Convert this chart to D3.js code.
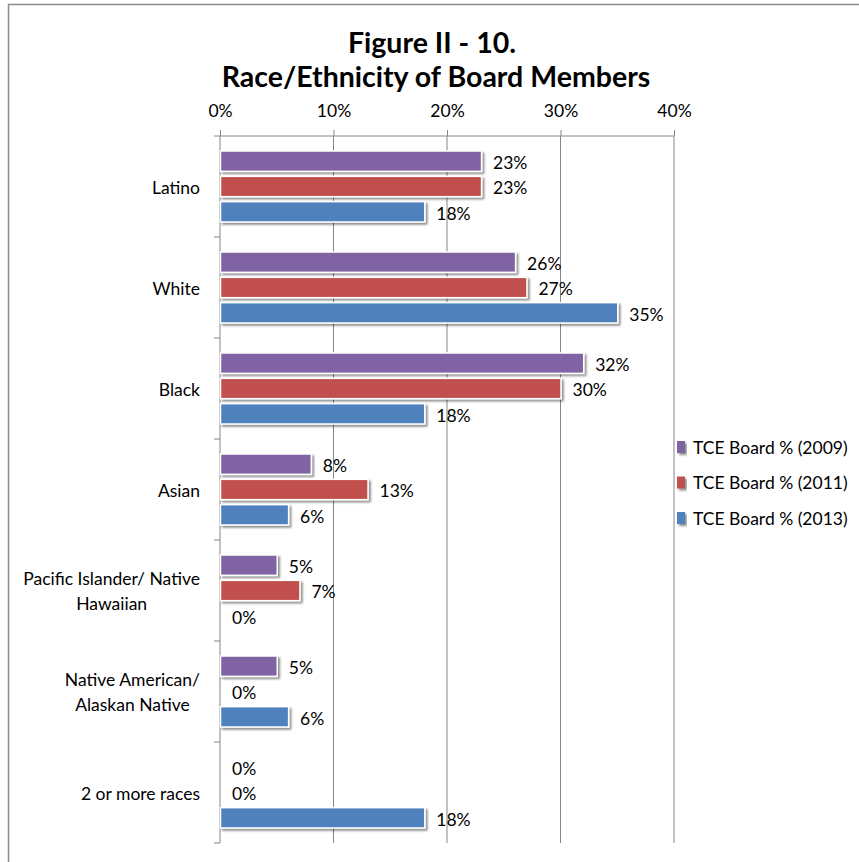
<!DOCTYPE html>
<html>
<head>
<meta charset="utf-8">
<script src="https://cdn.jsdelivr.net/npm/d3@7"></script>
<style>
  body { margin: 0; background: #fff; }
  svg { display: block; }
  text { font-family: "Lato", "Open Sans", sans-serif; fill: #000; }
</style>
</head>
<body>
<svg id="chart" width="859" height="862"></svg>
<script>
const categories = [
  ["Latino"],
  ["White"],
  ["Black"],
  ["Asian"],
  ["Pacific Islander/ Native", "Hawaiian"],
  ["Native American/", "Alaskan Native"],
  ["2 or more races"]
];
const seriesNames = ["TCE Board % (2009)", "TCE Board % (2011)", "TCE Board % (2013)"];
const seriesColors = ["#8064A2", "#C0504D", "#4F81BD"];
const values2009 = [0.23, 0.26, 0.32, 0.08, 0.05, 0.05, 0.00];
const values2011 = [0.23, 0.27, 0.30, 0.13, 0.07, 0.00, 0.00];
const values2013 = [0.18, 0.35, 0.18, 0.06, 0.00, 0.06, 0.18];
const tickValues = [0, 0.1, 0.2, 0.3, 0.4];
const titleLines = ["Figure II - 10.", "Race/Ethnicity of Board Members"];

const seriesValues = [values2009, values2011, values2013];
const catKeys = categories.map(c => c.join(" "));
const FS = "17.5px";

const svg = d3.select("#chart");

// shadow filter
const defs = svg.append("defs");
const f = defs.append("filter").attr("id", "shadow").attr("x", "-10%").attr("y", "-30%").attr("width", "130%").attr("height", "180%");
f.append("feGaussianBlur").attr("in", "SourceAlpha").attr("stdDeviation", 1.2).attr("result", "b");
f.append("feOffset").attr("in", "b").attr("dx", 1.5).attr("dy", 1.5).attr("result", "o");
f.append("feComponentTransfer").attr("in", "o").attr("result", "o2")
  .append("feFuncA").attr("type", "linear").attr("slope", 0.45);
const fm = f.append("feMerge");
fm.append("feMergeNode").attr("in", "o2");
fm.append("feMergeNode").attr("in", "SourceGraphic");

// outer border
svg.append("rect").attr("x", 8.5).attr("y", 4.5).attr("width", 900).attr("height", 900)
  .attr("fill", "none").attr("stroke", "#8c8c8c").attr("stroke-width", 1.5);

// title
svg.append("text").attr("x", 432).attr("y", 53).attr("text-anchor", "middle")
  .style("font-size", "28.5px").style("font-weight", "bold").text(titleLines[0]);
svg.append("text").attr("x", 436).attr("y", 87).attr("text-anchor", "middle")
  .style("font-size", "28.5px").style("font-weight", "bold").text(titleLines[1]);

const x = d3.scaleLinear().domain([0, 0.4]).range([220, 674]);
const y0 = d3.scaleBand().domain(catKeys).range([136, 843]).padding(0);
const y1 = d3.scaleBand().domain(seriesNames).range([12.5, y0.bandwidth() - 12.5]).padding(0);

// gridlines
svg.append("g").selectAll("line").data(tickValues.slice(1)).join("line")
  .attr("x1", d => x(d)).attr("x2", d => x(d))
  .attr("y1", 136).attr("y2", 843)
  .attr("stroke", "#868686").attr("stroke-width", 1);

// top axis
const xAxis = d3.axisTop(x).tickValues(tickValues).tickFormat(d3.format(".0%")).tickSize(6).tickPadding(13);
const gx = svg.append("g").attr("transform", "translate(0,136)").call(xAxis);
gx.select(".domain").attr("stroke", "#868686").attr("d", "M220,0H674");
gx.selectAll(".tick line").attr("stroke", "#868686");
gx.selectAll(".tick text").style("font-size", FS).style("font-family", "Lato, sans-serif").attr("fill", "#000");

// left axis line and ticks at band boundaries
svg.append("line").attr("x1", 220).attr("x2", 220).attr("y1", 136).attr("y2", 843)
  .attr("stroke", "#868686");
const bounds = catKeys.map(k => y0(k) + y0.bandwidth()).concat([y0(catKeys[0])]);
svg.append("g").selectAll("line").data(bounds).join("line")
  .attr("x1", 214).attr("x2", 220).attr("y1", d => d).attr("y2", d => d)
  .attr("stroke", "#868686");

// bars
const groups = svg.append("g").selectAll("g").data(categories).join("g")
  .attr("transform", (d, i) => `translate(0,${y0(catKeys[i])})`);

groups.each(function(cat, ci) {
  const g = d3.select(this);
  seriesNames.forEach((s, si) => {
    const v = seriesValues[si][ci];
    const yy = y1(s);
    const h = y1.bandwidth();
    if (v > 0) {
      g.append("rect")
        .attr("x", x(0) + 0.5).attr("y", yy + 2.5)
        .attr("width", x(v) - x(0)).attr("height", h - 5)
        .attr("fill", seriesColors[si]).attr("stroke", "#fff").attr("stroke-width", 1.5)
        .attr("filter", "url(#shadow)");
    }
    g.append("text")
      .attr("x", x(v) + 12).attr("y", yy + h / 2).attr("dy", "0.45em")
      .style("font-size", FS).text(d3.format(".0%")(v));
  });
  // category label
  const lines = cat;
  const lh = 24.5;
  const cy = y0.bandwidth() / 2;
  const texts = lines.map((t, li) => g.append("text")
    .attr("y", cy + (li - (lines.length - 1) / 2) * lh).attr("dy", "0.4em")
    .style("font-size", FS).attr("text-anchor", "middle").text(t));
  const maxW = d3.max(texts, t => t.node().getComputedTextLength());
  texts.forEach(t => t.attr("x", 200 - maxW / 2));
});

// legend
const legend = svg.append("g").selectAll("g").data(seriesNames).join("g")
  .attr("transform", (d, i) => `translate(677,${447 + i * 35.5})`);
legend.append("rect").attr("x", 0).attr("y", -6).attr("width", 8).attr("height", 12)
  .attr("fill", (d, i) => seriesColors[i]).attr("filter", "url(#shadow)");
legend.append("text").attr("x", 16).attr("y", 0).attr("dy", "0.38em")
  .style("font-size", FS).text(d => d);
</script>
</body>
</html>
